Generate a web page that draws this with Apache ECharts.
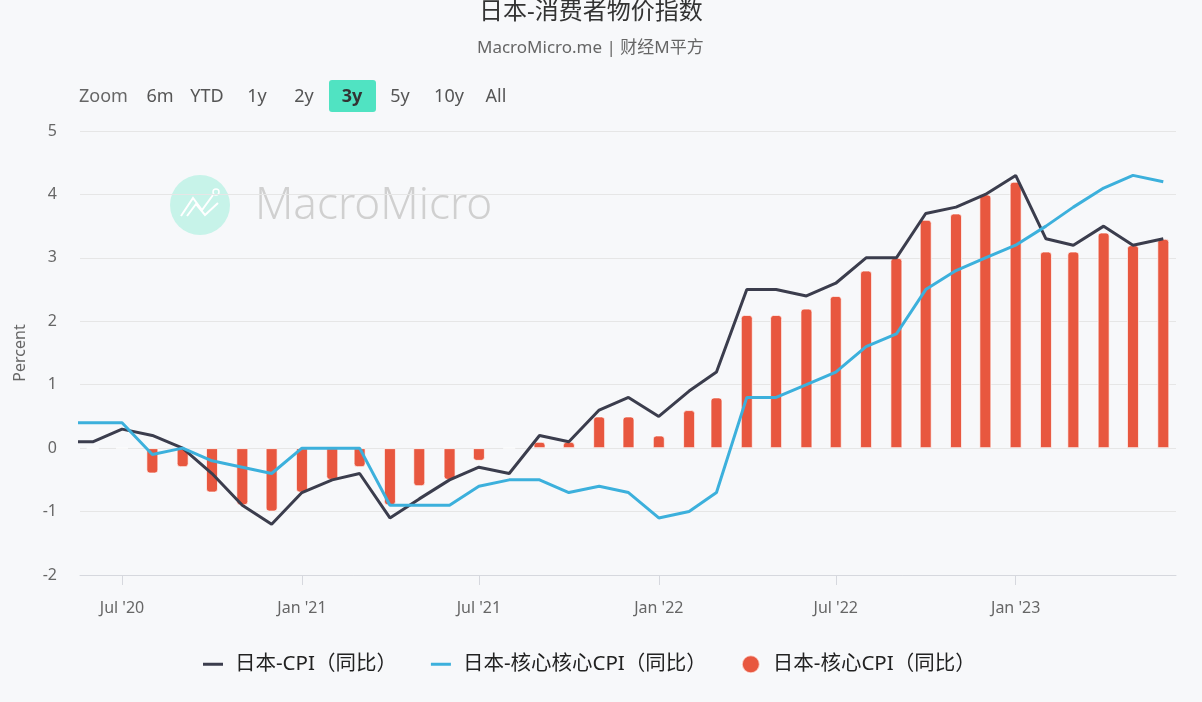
<!DOCTYPE html>
<html>
<head>
<meta charset="utf-8">
<title>日本-消费者物价指数</title>
<script src="https://cdn.jsdelivr.net/npm/echarts@6/dist/echarts.min.js"></script>
<style>
  html, body { margin: 0; padding: 0; background: #f7f8fa; }
  #main { width: 1202px; height: 702px; }
</style>
</head>
<body>
<div id="main"></div>
<script>
// 月份（每月1日）
var months = [
  '2020-05-01','2020-06-01','2020-07-01','2020-08-01','2020-09-01','2020-10-01','2020-11-01','2020-12-01',
  '2021-01-01','2021-02-01','2021-03-01','2021-04-01','2021-05-01','2021-06-01','2021-07-01','2021-08-01',
  '2021-09-01','2021-10-01','2021-11-01','2021-12-01',
  '2022-01-01','2022-02-01','2022-03-01','2022-04-01','2022-05-01','2022-06-01','2022-07-01','2022-08-01',
  '2022-09-01','2022-10-01','2022-11-01','2022-12-01',
  '2023-01-01','2023-02-01','2023-03-01','2023-04-01','2023-05-01','2023-06-01'
];

// 日本-CPI（同比）
var cpi_yoy = [
  0.1, 0.1, 0.3, 0.2, 0.0, -0.4, -0.9, -1.2,
  -0.7, -0.5, -0.4, -1.1, -0.8, -0.5, -0.3, -0.4, 0.2, 0.1, 0.6, 0.8,
  0.5, 0.9, 1.2, 2.5, 2.5, 2.4, 2.6, 3.0, 3.0, 3.7, 3.8, 4.0,
  4.3, 3.3, 3.2, 3.5, 3.2, 3.3
];

// 日本-核心核心CPI（同比）
var core_core_yoy = [
  0.4, 0.4, 0.4, -0.1, 0.0, -0.2, -0.3, -0.4,
  0.0, 0.0, 0.0, -0.9, -0.9, -0.9, -0.6, -0.5, -0.5, -0.7, -0.6, -0.7,
  -1.1, -1.0, -0.7, 0.8, 0.8, 1.0, 1.2, 1.6, 1.8, 2.5, 2.8, 3.0,
  3.2, 3.5, 3.8, 4.1, 4.3, 4.2
];

// 日本-核心CPI（同比），2020年5月不在画面内
var core_yoy = [
  null, 0.0, 0.0, -0.4, -0.3, -0.7, -0.9, -1.0,
  -0.7, -0.5, -0.3, -0.9, -0.6, -0.5, -0.2, 0.0, 0.1, 0.1, 0.5, 0.5,
  0.2, 0.6, 0.8, 2.1, 2.1, 2.2, 2.4, 2.8, 3.0, 3.6, 3.7, 4.0,
  4.2, 3.1, 3.1, 3.4, 3.2, 3.3
];

// x轴刻度
var x_ticks = ['2020-07-01','2021-01-01','2021-07-01','2022-01-01','2022-07-01','2023-01-01'];
var y_ticks = [-2, -1, 0, 1, 2, 3, 4, 5];

// 范围按钮
var zoom_buttons = ['6m','YTD','1y','2y','3y','5y','10y','All'];

var month_names = ['Jan','Feb','Mar','Apr','May','Jun','Jul','Aug','Sep','Oct','Nov','Dec'];
var latin_font = "'Noto Sans', 'Noto Sans CJK SC', sans-serif";

function toTime(s){
  var p = s.split('-');
  return new Date(+p[0], +p[1] - 1, +p[2]).getTime();
}

function pairs(vals){
  var out = [];
  for(var i = 0; i < months.length; i++){
    out.push([toTime(months[i]), vals[i] == null ? '-' : vals[i]]);
  }
  return out;
}

// 柱子：正数圆角在上，负数圆角在下
function barItems(vals){
  var out = [];
  for(var i = 0; i < months.length; i++){
    var v = vals[i];
    if(v == null){ out.push([toTime(months[i]), '-']); continue; }
    out.push({
      value: [toTime(months[i]), v],
      itemStyle: { borderRadius: v < 0 ? [0,0,3,3] : [3,3,0,0] }
    });
  }
  return out;
}

function buildGraphic(){
  var g = [];
  // Zoom 标签
  g.push({ type:'text', x: 79, y: 97, z: 10,
    style:{ text:'Zoom', fill:'#666', font:'18px ' + latin_font, verticalAlign:'middle' } });
  var centers = [160, 207, 257, 304, 352, 400, 449, 496];
  // 选中的 3y 背景
  g.push({ type:'rect', shape:{ x:329, y:80, width:47, height:32, r:3 }, z: 9,
    style:{ fill:'#50e3c2' } });
  for(var i = 0; i < zoom_buttons.length; i++){
    var sel = zoom_buttons[i] == '3y';
    g.push({ type:'text', x: centers[i], y: 97, z: 10,
      style:{ text: zoom_buttons[i], fill: sel ? '#333' : '#555',
        font: (sel ? 'bold ' : '') + '18px ' + latin_font,
        align:'center', verticalAlign:'middle' } });
  }
  // 水印
  g.push({ type:'circle', shape:{ cx:200, cy:205, r:30 }, z:-10, silent:true,
    style:{ fill:'#c7f3e9' } });
  g.push({ type:'polyline', shape:{ points:[[181,216],[193,198],[202,210],[213,195]] }, z:-9,
    style:{ stroke:'#fff', lineWidth:2, fill:null } });
  g.push({ type:'polyline', shape:{ points:[[187,216],[196,204],[205,215],[218,203]] }, z:-9,
    style:{ stroke:'#fff', lineWidth:2, fill:null } });
  g.push({ type:'circle', shape:{ cx:216, cy:192, r:3 }, z:-9,
    style:{ stroke:'#fff', lineWidth:1.5, fill:null } });
  g.push({ type:'text', x: 255, y: 206, z:-10, silent:true,
    style:{ text:'MacroMicro', fill:'#d0d0d0', font:'300 44px ' + latin_font,
      verticalAlign:'middle' } });
  return g;
}

var myChart = echarts.init(document.getElementById('main'));

var option = {
  backgroundColor: '#f7f8fa',
  animation: false,
  title: [{
    text: '日本-消费者物价指数',
    left: 479, top: 0, padding: 0,
    textStyle: { fontSize: 24, fontWeight: 'normal', color: '#333', fontFamily: latin_font }
  }, {
    text: 'MacroMicro.me | 财经M平方',
    left: 477, top: 40, padding: 0,
    textStyle: { fontSize: 17, fontWeight: 'normal', color: '#666', fontFamily: latin_font }
  }],
  graphic: buildGraphic(),
  legend: {
    left: 203, top: 654, padding: 0,
    itemWidth: 20, itemHeight: 18, itemGap: 34,
    textStyle: { fontSize: 20.5, color: '#222', fontFamily: latin_font, padding: [0,0,0,7] },
    data: [
      { name: '日本-CPI（同比）', icon: 'path://M0,0H20V3H0Z' },
      { name: '日本-核心核心CPI（同比）', icon: 'path://M0,0H20V3H0Z' },
      { name: '日本-核心CPI（同比）', icon: 'circle' }
    ]
  },
  grid: { left: 80, right: 26, top: 131, bottom: 127, outerBoundsMode: 'none' },
  xAxis: {
    type: 'value',
    min: toTime('2020-05-19'),
    max: toTime('2023-06-14'),
    axisLine: { onZero: false, lineStyle: { color: '#d6d8de', width: 1 } },
    axisTick: { show: true, length: 10, lineStyle: { color: '#d6d8de' },
      customValues: x_ticks.map(toTime) },
    axisLabel: {
      customValues: x_ticks.map(toTime),
      margin: 25, color: '#666', fontSize: 16, fontFamily: latin_font,
      formatter: function(v){
        var d = new Date(v);
        return month_names[d.getMonth()] + " '" + String(d.getFullYear()).slice(2);
      }
    },
    splitLine: { show: false }
  },
  yAxis: {
    type: 'value',
    min: y_ticks[0], max: y_ticks[y_ticks.length - 1], interval: 1,
    name: 'Percent', nameLocation: 'middle', nameGap: 52,
    nameTextStyle: { color: '#666', fontSize: 16, fontFamily: latin_font },
    axisLine: { show: false },
    axisTick: { show: false },
    axisLabel: { margin: 23, color: '#666', fontSize: 16, fontFamily: latin_font },
    splitLine: { lineStyle: { color: '#e6e6e6', width: 1 } }
  },
  series: [{
    name: '日本-CPI（同比）',
    type: 'line',
    data: pairs(cpi_yoy),
    showSymbol: false,
    z: 3,
    color: '#3b3d4d',
    lineStyle: { width: 3, color: '#3b3d4d' }
  }, {
    name: '日本-核心核心CPI（同比）',
    type: 'line',
    data: pairs(core_core_yoy),
    showSymbol: false,
    z: 4,
    color: '#3cb0dc',
    lineStyle: { width: 3, color: '#3cb0dc' }
  }, {
    name: '日本-核心CPI（同比）',
    type: 'bar',
    data: barItems(core_yoy),
    barWidth: 12,
    z: 2,
    color: '#e8573f',
    itemStyle: { color: '#e8573f', borderColor: 'rgba(255,255,255,0.7)', borderWidth: 1 }
  }]
};

myChart.setOption(option);
</script>
</body>
</html>
